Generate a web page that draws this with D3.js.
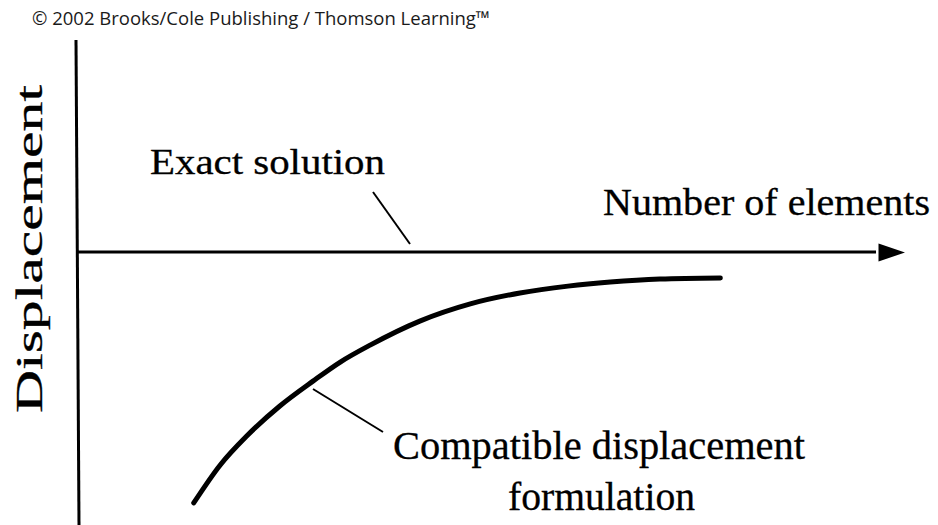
<!DOCTYPE html>
<html>
<head>
<meta charset="utf-8">
<script src="https://cdn.jsdelivr.net/npm/d3@7"></script>
<style>
  body { margin: 0; background: #fff; }
</style>
</head>
<body>
<div id="chart"></div>
<script>

// number of elements (arbitrary units) and the displacement it gives
const elements = [14.1, 17.3, 20.5, 24.5, 28.5, 31.8, 35.4, 41.4, 47.5, 53.5, 59.3, 64.4, 70.4, 77.7];
const approxDisp = [0.081, 0.220, 0.326, 0.436, 0.527, 0.597, 0.659, 0.747, 0.810, 0.850, 0.875, 0.890, 0.901, 0.905];
const exactDisp = 1.0;

const labels = {
  exact: "Exact solution",
  xTitle: "Number of elements",
  yTitle: "Displacement",
  approx: ["Compatible displacement", "formulation"],
  credit: "© 2002 Brooks/Cole Publishing / Thomson Learning™"
};

const width = 938;
const height = 525;

// x axis runs from the y axis to the arrow tip
const x = d3.scaleLinear()
  .domain([0, 100])
  .range([77, 905]);

const y = d3.scaleLinear()
  .domain([0, 1])
  .range([525, 252]);

const svg = d3.select("#chart")
  .append("svg")
  .attr("width", width)
  .attr("height", height);

const serif = "'Liberation Serif', 'Times New Roman', serif";

// credit line
svg.append("text")
  .attr("x", 32)
  .attr("y", 25)
  .attr("font-family", "'Open Sans', sans-serif")
  .attr("font-size", 19)
  .attr("fill", "#1a1a1a")
  .attr("textLength", 458)
  .attr("lengthAdjust", "spacingAndGlyphs")
  .text(labels.credit);

// y axis (slightly off vertical like the scan)
svg.append("line")
  .attr("x1", 76).attr("y1", 40)
  .attr("x2", 79).attr("y2", height)
  .attr("stroke", "#000")
  .attr("stroke-width", 3);

// x axis = exact solution level
svg.append("line")
  .attr("x1", x(0)).attr("y1", y(exactDisp))
  .attr("x2", x(96.5)).attr("y2", y(exactDisp))
  .attr("stroke", "#000")
  .attr("stroke-width", 3);

// arrow head
svg.append("path")
  .attr("d", d3.line()([
    [x(100), y(exactDisp) + 0.5],
    [x(96.8), y(exactDisp) - 8.5],
    [x(96.8), y(exactDisp) + 9.5]
  ]) + "Z")
  .attr("fill", "#000");

// approximate (compatible displacement) curve
const pts = elements.map((e, i) => [e, approxDisp[i]]);

const line = d3.line()
  .x(d => x(d[0]))
  .y(d => y(d[1]))
  .curve(d3.curveMonotoneX);

svg.append("path")
  .datum(pts)
  .attr("d", line)
  .attr("fill", "none")
  .attr("stroke", "#000")
  .attr("stroke-width", 5)
  .attr("stroke-linecap", "round");

// leader lines
svg.append("line")
  .attr("x1", 373).attr("y1", 192)
  .attr("x2", 410).attr("y2", 244)
  .attr("stroke", "#000")
  .attr("stroke-width", 2);

svg.append("line")
  .attr("x1", 313).attr("y1", 389)
  .attr("x2", 383).attr("y2", 432)
  .attr("stroke", "#000")
  .attr("stroke-width", 2);

// text labels, slight stroke to match the heavy scanned type
const addLabel = (txt, xx, yy, size, len) =>
  svg.append("text")
    .attr("x", xx).attr("y", yy)
    .attr("font-family", serif)
    .attr("font-size", size)
    .attr("stroke", "#000")
    .attr("stroke-width", 0.3)
    .attr("textLength", len)
    .attr("lengthAdjust", "spacingAndGlyphs")
    .text(txt);

addLabel(labels.exact, 150, 174, 36, 235);
addLabel(labels.xTitle, 603, 215, 38, 327);
addLabel(labels.approx[0], 393, 459, 40, 412);
addLabel(labels.approx[1], 508, 510, 40, 187);

svg.append("text")
  .attr("transform", "translate(42,249) rotate(-90)")
  .attr("text-anchor", "middle")
  .attr("font-family", serif)
  .attr("font-size", 37)
  .attr("stroke", "#000")
  .attr("stroke-width", 0.3)
  .attr("textLength", 328)
  .attr("lengthAdjust", "spacingAndGlyphs")
  .text(labels.yTitle);

</script>
</body>
</html>
